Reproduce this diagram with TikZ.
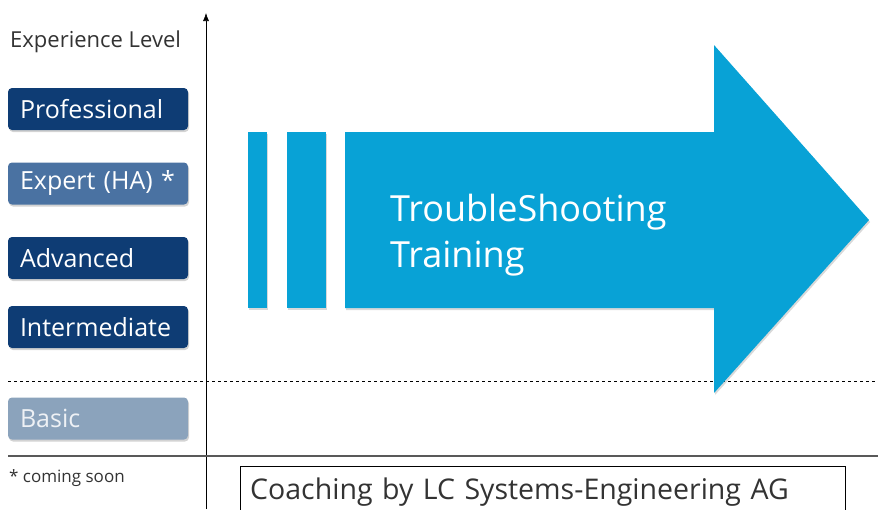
\documentclass[tikz,border=0pt]{standalone}
\usepackage{fontspec}
\setmainfont{Open Sans}
\usetikzlibrary{shapes,arrows,arrows.meta,positioning,shadows}

\definecolor{navy}{HTML}{0E3C74}
\definecolor{expertblue}{HTML}{4A72A2}
\definecolor{basicgray}{HTML}{8BA3BC}
\definecolor{trainblue}{HTML}{08A2D6}
\definecolor{labelgray}{HTML}{333333}

\begin{document}
\begin{tikzpicture}[
    x=1pt, y=-1pt,
    level/.style={rectangle, rounded corners=4pt, minimum width=180pt, minimum height=42pt, text width=156pt, inner xsep=12pt, align=left, text=white, font=\fontsize{25}{28}\selectfont, drop shadow={opacity=0.35, shadow xshift=1pt, shadow yshift=-2pt}},
    bar/.style={rectangle, fill=trainblue, minimum height=176pt, inner sep=0pt, drop shadow={opacity=0.3, shadow xshift=1pt, shadow yshift=-2pt}},
    note/.style={anchor=west, text=labelgray, inner sep=0pt}
]
\useasboundingbox (0,0) rectangle (878,509);

% Levels
\node[note, font=\fontsize{22}{26}\selectfont] (explevel) at (10,42) {Experience Level};
\node[level, fill=navy] (prof) at (98,109) {Professional};
\node[level, fill=expertblue] (expert) at (98,183.5) {Expert (HA) *};
\node[level, fill=navy] (adv) at (98,258) {Advanced};
\node[level, fill=navy] (inter) at (98,327) {Intermediate};
\node[level, fill=basicgray, text=white!85!basicgray] (basic) at (98,418.5) {Basic};
\node[note, font=\fontsize{17}{20}\selectfont] (soon) at (9,478) {* coming soon};

% Axes
\coordinate (axbot) at (206,509);
\coordinate (axtop) at (206,13);
\draw[-{Latex[length=8pt,width=6pt]}, semithick] (axbot) -- (axtop);
\coordinate (dashL) at (8,381);
\coordinate (dashR) at (878,381);
\draw[dashed] (dashL) -- (dashR);
\coordinate (baseL) at (8,456);
\coordinate (baseR) at (878,456);
\draw[line width=1.2pt, gray!70!black] (baseL) -- (baseR);

% Training arrow
\node[bar, minimum width=19pt] (bar1) at (257.5,220) {};
\node[bar, minimum width=39pt] (bar2) at (306.5,220) {};
\fill[trainblue, drop shadow={opacity=0.3, shadow xshift=1pt, shadow yshift=-2pt}]
    (345,132) -- (714,132) -- (714,45) -- (869,220) -- (714,393) -- (714,308) -- (345,308) -- cycle;
\node[anchor=west, text=white, align=left, inner sep=0pt, font=\fontsize{36}{46}\selectfont] (training) at (390,235) {TroubleShooting\\Training};

% Coaching
\node[draw, anchor=north west, minimum width=605pt, minimum height=52pt, text width=585pt, inner xsep=10pt, align=left, text=labelgray, font=\fontsize{28.5}{32}\selectfont] (coach) at (240,466) {Coaching by LC Systems-Engineering AG};

\end{tikzpicture}
\end{document}
